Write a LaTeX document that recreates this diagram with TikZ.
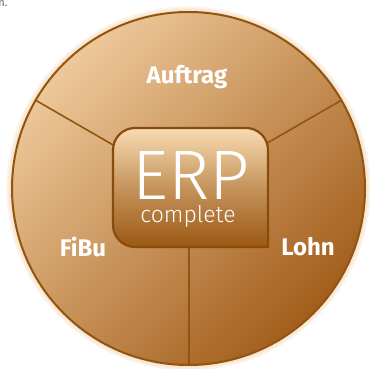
\documentclass[tikz,border=0pt]{standalone}
\usepackage{fontspec}
\setmainfont{Fira Sans}
\newfontfamily\erpfont[UprightFont={* Light}]{Fira Sans}
\definecolor{ringline}{HTML}{93540F}
\definecolor{discLight}{HTML}{EEC89A}
\definecolor{discDark}{HTML}{A25E1B}
\definecolor{boxLight}{HTML}{F8DCB3}
\definecolor{boxDark}{HTML}{9C5814}
\definecolor{boxline}{HTML}{8A4C0C}
\tikzset{
  module/.style = {text = white, font = \fontsize{24}{24}\selectfont\bfseries},
  spoke/.style  = {ringline, line width = 1.6pt}
}
\begin{document}
\begin{tikzpicture}[x = 1pt, y = 1pt]
      \useasboundingbox (0,0) rectangle (369,369);
      \coordinate (c) at (188.5,180.5);
      % leftover text at the top
      \node [anchor = base west, text = black!60, inner sep = 0pt,
             font = \fontsize{11}{11}\selectfont]
        at (-6,362) {rn.};
      % soft glow
      \foreach \g in {1,...,6}
        \fill [discLight, opacity = .12] (c) circle (176.5 + \g);
      \shade [top color = discLight, bottom color = discDark, shading angle = 45]
        (c) circle (176.5);
      % spokes
      \draw [spoke] (c) -- ++(150:176.5) coordinate (s1);
      \draw [spoke] (c) -- ++(30:176.5) coordinate (s2);
      \draw [spoke] (189,180.5) -- (189,4) coordinate (s3);
      \draw [ringline, line width = 2pt] (c) circle (176.5);
      % centre box
      \shade [top color = boxLight, bottom color = boxDark, middle color = boxLight!45!boxDark,
              draw = boxline, line width = 2.2pt]
        (268,122) -- (268,219) arc (0:90:22) -- (135,241) arc (90:180:22)
        -- (113,144) arc (180:270:22) -- cycle;
      \node [text = white, anchor = base, inner sep = 0pt,
             font = \fontsize{70}{70}\erpfont]
        (erp) at (191,169) {ERP};
      \node [text = white, anchor = base, inner sep = 0pt,
             font = \fontsize{23}{23}\erpfont]
        (compl) at (188,146) {complete};
      % modules
      \node [module] (auftrag) at (187,292) {Auftrag};
      \node [module] (fibu) at (83,122) {FiBu};
      \node [module] (lohn) at (308,122) {Lohn};
    \end{tikzpicture}
\end{document}
